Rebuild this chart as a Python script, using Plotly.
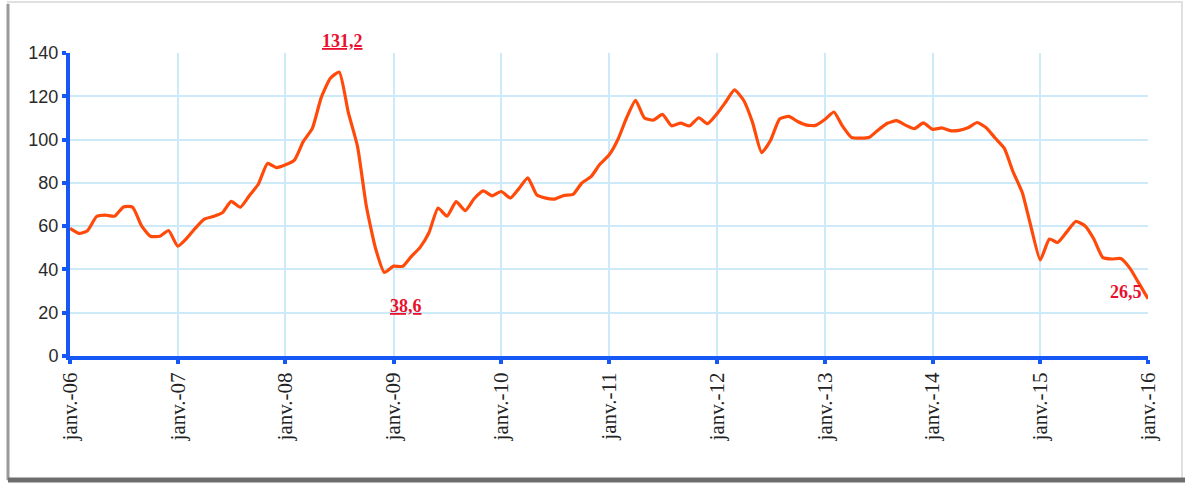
import pandas as pd
import plotly.graph_objects as go

# OPEC basket, monthly average ($/bbl), Jan 2006 - Jan 2016
prices_2006 = [58.96, 56.62, 57.88, 64.44, 65.11, 64.60, 68.89, 68.81, 59.98, 55.32, 55.34, 57.99]
prices_2007 = [50.73, 54.45, 58.97, 63.23, 64.49, 66.18, 71.42, 68.71, 74.18, 79.36, 88.99, 87.05]
prices_2008 = [88.35, 90.64, 99.03, 105.16, 119.39, 128.33, 131.22, 112.41, 96.85, 69.16, 49.76, 38.60]
prices_2009 = [41.52, 41.41, 45.78, 50.20, 56.98, 68.36, 64.59, 71.35, 67.17, 72.67, 76.29, 74.01]
prices_2010 = [76.01, 72.99, 77.21, 82.33, 74.48, 72.95, 72.51, 74.15, 74.63, 79.93, 82.83, 88.56]
prices_2011 = [92.83, 100.29, 109.84, 118.09, 109.94, 109.04, 111.62, 106.36, 107.61, 106.29, 110.08, 107.34]
prices_2012 = [111.77, 117.48, 122.97, 118.18, 108.07, 93.98, 99.55, 109.52, 110.70, 108.36, 106.67, 106.57]
prices_2013 = [109.28, 112.75, 106.44, 101.05, 100.65, 101.03, 104.45, 107.52, 108.73, 106.69, 105.04, 107.67]
prices_2014 = [104.71, 105.38, 104.15, 104.27, 105.44, 107.89, 105.61, 100.75, 96.02, 85.06, 75.57, 59.46]
prices_2015 = [44.38, 54.06, 52.46, 57.34, 62.16, 60.21, 54.19, 45.46, 44.82, 45.02, 40.50, 33.64]
prices_2016 = [26.50]

years = list(range(2006, 2017))
tick_labels = ["janv.-06", "janv.-07", "janv.-08", "janv.-09", "janv.-10", "janv.-11",
               "janv.-12", "janv.-13", "janv.-14", "janv.-15", "janv.-16"]

# labelled points: (date, value, underlined, x shift, y shift)
callouts = [
    ("2008-07-01", 131.2, True, 3, 31),
    ("2008-12-01", 38.6, True, 22, -34),
    ("2016-01-01", 26.5, False, -22, 7),
]

prices = (prices_2006 + prices_2007 + prices_2008 + prices_2009 + prices_2010 + prices_2011
          + prices_2012 + prices_2013 + prices_2014 + prices_2015 + prices_2016)
months = pd.date_range("2006-01-01", periods=len(prices), freq="MS")

W, H = 1185, 486
ML, MR, MT, MB = 70, 37, 53, 130
pw, ph = W - ML - MR, H - MT - MB

def px_x(p):
    return (p - ML) / pw

def px_y(p):
    return (H - MB - p) / ph

fig = go.Figure()
fig.add_trace(go.Scatter(
    x=months, y=prices, mode="lines",
    line=dict(color="#ff4a0a", width=3.2, shape="spline", smoothing=0.5),
    hoverinfo="x+y", showlegend=False,
))

for d, v, underline, xs, ys in callouts:
    txt = f"{v:.1f}".replace(".", ",")
    if underline:
        txt = f"<u>{txt}</u>"
    fig.add_annotation(
        x=d, y=v, text=f"<b>{txt}</b>", showarrow=False,
        xshift=xs, yshift=ys,
        font=dict(family="Liberation Serif, Times New Roman, serif", size=18, color="#e8102e"),
    )

blue = "#1558f5"
grid = "#cdeaf8"

fig.update_xaxes(
    range=[months[0], months[-1]],
    tickvals=[pd.Timestamp(f"{y}-01-01") for y in years],
    ticktext=tick_labels, tickangle=-90,
    tickfont=dict(family="Liberation Serif, Times New Roman, serif", size=21, color="#222"),
    showgrid=True, gridcolor=grid, gridwidth=1.5,
    showline=True, linecolor=blue, linewidth=4,
    ticks="outside", ticklen=4, tickwidth=4, tickcolor=blue,
    zeroline=False,
)
fig.update_yaxes(
    range=[0, 140], dtick=20,
    tickfont=dict(family="Liberation Sans, Arial, sans-serif", size=18, color="#2a2a2a"),
    showgrid=True, gridcolor=grid, gridwidth=1.5,
    showline=True, linecolor=blue, linewidth=4,
    ticks="outside", ticklen=4, tickwidth=4, tickcolor=blue,
    zeroline=False,
)

# outer frame with a shadowed bottom and left edge
frame_shapes = [
    dict(type="rect", x0=px_x(8), x1=px_x(1182), y0=px_y(480), y1=px_y(2),
         line=dict(color="#e0e0e0", width=2)),
    dict(type="line", x0=px_x(8), x1=px_x(8), y0=px_y(480), y1=px_y(4),
         line=dict(color="#9a9a9a", width=3)),
    dict(type="line", x0=px_x(8), x1=px_x(1185), y0=px_y(480), y1=px_y(480),
         line=dict(color="#6e6e6e", width=5)),
]
for s in frame_shapes:
    fig.add_shape(xref="paper", yref="paper", layer="above", **s)

fig.update_layout(
    width=W, height=H,
    margin=dict(l=ML, r=MR, t=MT, b=MB),
    paper_bgcolor="white", plot_bgcolor="white",
)

fig.write_html("out.html")
